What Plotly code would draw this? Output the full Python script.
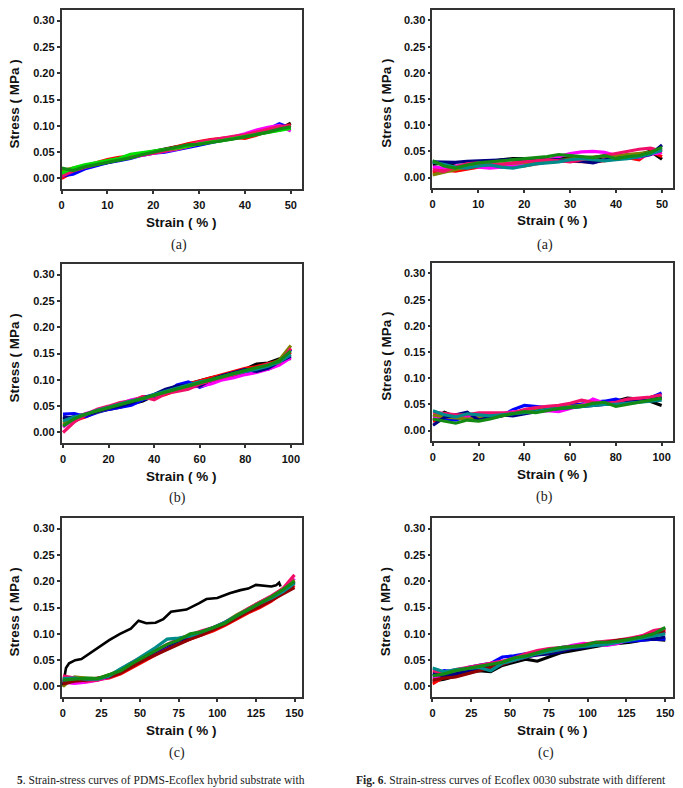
import plotly.graph_objects as go

W, H = 683, 788

# ---------------- data ----------------
# Panel (left a) PDMS-Ecoflex, 50 %
x_la = [0, 2.5, 5, 7.5, 10, 12.5, 15, 17.5, 20, 22.5, 25, 27.5, 30, 32.5, 35, 37.5, 40, 42.5, 45, 47.5, 50]
la_blue = [.005, .008, .018, .024, .030, .034, .038, .044, .048, .050, .054, .058, .063, .068, .072, .077, .082, .088, .093, .104, .096]
la_red = [.000, .012, .022, .030, .036, .040, .042, .046, .050, .055, .060, .066, .070, .074, .076, .078, .076, .082, .090, .098, .102]
la_magenta = [.008, .016, .022, .028, .032, .036, .040, .045, .049, .052, .055, .060, .066, .072, .075, .079, .085, .092, .097, .101, .090]
la_black = [.012, .018, .024, .027, .030, .035, .040, .047, .052, .056, .060, .063, .066, .069, .073, .076, .080, .084, .088, .093, .105]
la_olive = [.015, .020, .025, .030, .034, .037, .042, .047, .050, .053, .056, .061, .067, .070, .073, .077, .081, .084, .088, .092, .097]
la_pink = [.004, .014, .021, .027, .033, .038, .041, .044, .048, .052, .057, .063, .069, .073, .077, .080, .083, .088, .094, .099, .100]
la_lime = [.010, .020, .026, .030, .035, .038, .046, .049, .051, .054, .058, .062, .066, .069, .072, .076, .080, .084, .087, .091, .095]
la_green = [.020, .015, .022, .026, .030, .034, .039, .045, .050, .055, .060, .064, .065, .068, .072, .075, .079, .083, .088, .094, .098]

# Panel (right a) Ecoflex 0030, 50 %
x_ra = x_la
ra_black = [.025, .028, .022, .020, .024, .030, .034, .036, .036, .034, .032, .036, .038, .034, .036, .040, .042, .040, .044, .050, .035]
ra_red = [.010, .014, .012, .016, .020, .022, .024, .023, .022, .026, .030, .032, .031, .030, .030, .032, .036, .038, .034, .050, .040]
ra_magenta = [.020, .018, .022, .024, .020, .018, .020, .024, .026, .028, .032, .040, .046, .049, .050, .048, .042, .040, .038, .044, .048]
ra_olive = [.005, .010, .016, .020, .022, .025, .026, .027, .028, .030, .032, .034, .036, .038, .040, .041, .042, .044, .046, .048, .055]
ra_navy = [.030, .030, .029, .031, .032, .033, .034, .035, .036, .036, .035, .034, .033, .031, .028, .034, .036, .038, .040, .044, .062]
ra_pink = [.015, .012, .020, .026, .028, .026, .025, .028, .030, .032, .034, .032, .030, .034, .038, .042, .045, .050, .054, .056, .050]
ra_teal = [.030, .025, .020, .018, .022, .024, .020, .018, .022, .026, .028, .030, .034, .036, .034, .032, .034, .036, .040, .045, .052]
ra_green = [.032, .022, .018, .024, .028, .030, .032, .034, .036, .038, .040, .044, .042, .040, .038, .042, .036, .040, .042, .048, .058]

# Panel (left b) PDMS-Ecoflex, 100 %
x_lb = [0, 5, 10, 15, 20, 25, 30, 35, 40, 45, 50, 55, 60, 65, 70, 75, 80, 85, 90, 95, 100]
lb_black = [.025, .030, .036, .040, .044, .048, .054, .060, .070, .078, .086, .092, .098, .104, .108, .114, .120, .130, .132, .140, .140]
lb_red = [.015, .022, .030, .040, .045, .052, .058, .068, .066, .072, .080, .092, .098, .104, .110, .116, .122, .125, .130, .136, .152]
lb_blue = [.035, .036, .030, .038, .044, .048, .052, .062, .068, .075, .090, .096, .086, .094, .104, .108, .112, .118, .120, .130, .158]
lb_magenta = [.010, .026, .036, .042, .048, .055, .062, .066, .070, .076, .082, .086, .088, .092, .100, .104, .110, .114, .120, .128, .142]
lb_olive = [.018, .028, .034, .039, .046, .052, .058, .064, .070, .076, .082, .088, .094, .100, .106, .110, .116, .122, .126, .138, .165]
lb_navy = [.030, .025, .033, .040, .046, .050, .056, .066, .072, .082, .088, .090, .088, .100, .108, .114, .120, .116, .122, .134, .145]
lb_pink = [.000, .020, .034, .044, .050, .057, .060, .068, .062, .074, .078, .082, .092, .098, .104, .110, .116, .122, .130, .132, .160]
lb_teal = [.022, .030, .034, .042, .048, .054, .060, .064, .072, .078, .084, .090, .096, .100, .106, .112, .116, .120, .126, .134, .148]
lb_green = [.012, .026, .035, .041, .047, .053, .059, .065, .071, .077, .083, .089, .095, .101, .107, .112, .118, .123, .128, .136, .155]

# Panel (right b) Ecoflex 0030, 100 %
x_rb = x_lb
rb_black = [.020, .035, .026, .024, .026, .028, .030, .034, .038, .040, .044, .046, .048, .050, .052, .054, .056, .062, .060, .056, .048]
rb_red = [.018, .024, .028, .030, .032, .030, .028, .032, .036, .040, .042, .044, .046, .048, .050, .052, .054, .056, .058, .060, .062]
rb_blue = [.030, .022, .020, .028, .026, .024, .028, .040, .048, .046, .044, .046, .048, .050, .054, .056, .060, .054, .058, .062, .072]
rb_magenta = [.025, .028, .030, .026, .028, .030, .032, .036, .036, .036, .038, .036, .042, .048, .060, .052, .050, .056, .058, .060, .062]
rb_olive = [.030, .026, .024, .022, .024, .026, .030, .034, .036, .038, .042, .044, .046, .048, .050, .050, .052, .054, .056, .058, .060]
rb_navy = [.010, .025, .030, .035, .020, .025, .030, .028, .032, .035, .040, .042, .044, .046, .048, .050, .052, .054, .056, .058, .064]
rb_pink = [.035, .032, .030, .030, .034, .034, .034, .034, .040, .044, .046, .048, .052, .058, .054, .052, .054, .060, .062, .064, .068]
rb_teal = [.038, .030, .026, .032, .030, .028, .030, .032, .034, .036, .040, .042, .044, .046, .048, .050, .050, .052, .054, .056, .058]
rb_green = [.022, .018, .014, .020, .018, .022, .028, .032, .036, .034, .038, .042, .044, .046, .052, .054, .046, .050, .054, .058, .062]

# Panel (left c) PDMS-Ecoflex, 150 %
x_lc = [0, 7.5, 15, 22.5, 30, 37.5, 45, 52.5, 60, 67.5, 75, 82.5, 90, 97.5, 105, 112.5, 120, 127.5, 135, 142.5, 150]
lc_red = [.018, .012, .010, .013, .016, .024, .036, .048, .060, .072, .082, .090, .098, .106, .116, .128, .140, .150, .162, .178, .192]
lc_blue = [.010, .015, .012, .014, .018, .028, .040, .052, .064, .076, .085, .094, .102, .110, .120, .132, .146, .158, .170, .184, .200]
lc_magenta = [.008, .006, .008, .012, .018, .030, .044, .056, .066, .078, .088, .096, .104, .112, .120, .132, .144, .154, .166, .180, .205]
lc_olive = [.000, .018, .016, .015, .022, .032, .044, .056, .068, .078, .086, .094, .102, .110, .122, .136, .148, .160, .170, .186, .202]
lc_navy = [.012, .014, .013, .015, .020, .030, .042, .054, .066, .078, .087, .095, .103, .111, .121, .133, .145, .156, .168, .182, .198]
lc_pink = [.020, .016, .010, .012, .020, .032, .046, .058, .068, .080, .090, .098, .106, .112, .122, .134, .148, .160, .172, .186, .212]
lc_wine = [.005, .010, .012, .016, .018, .026, .038, .050, .060, .070, .080, .090, .098, .108, .118, .130, .142, .152, .164, .176, .188]
lc_teal = [.015, .016, .014, .014, .020, .034, .046, .060, .074, .090, .092, .096, .104, .112, .122, .134, .146, .158, .168, .180, .196]
lc_green = [.012, .014, .016, .015, .022, .030, .044, .056, .068, .080, .088, .100, .104, .112, .120, .134, .146, .158, .170, .184, .200]
# first-cycle (black) curve of left c
x_lc_black = [0, 1, 2, 4, 8, 12, 20, 30, 37, 44, 49, 54, 60, 65, 70, 80, 88, 93, 100, 108, 115, 120, 125, 130, 135, 138, 140, 141]
lc_black = [.000, .020, .035, .044, .050, .052, .068, .088, .100, .110, .125, .120, .121, .128, .142, .146, .158, .166, .168, .177, .183, .186, .193, .192, .190, .192, .197, .190]

# Panel (right c) Ecoflex 0030, 150 %
x_rc = x_lc
rc_black = [.010, .014, .020, .026, .030, .028, .040, .046, .052, .048, .056, .064, .068, .072, .076, .080, .082, .084, .088, .090, .088]
rc_red = [.005, .018, .024, .030, .034, .040, .046, .052, .058, .062, .066, .070, .074, .076, .080, .082, .084, .088, .094, .104, .108]
rc_blue = [.020, .030, .028, .036, .040, .044, .056, .058, .062, .064, .068, .074, .076, .080, .082, .080, .084, .086, .088, .090, .090]
rc_magenta = [.015, .022, .030, .034, .038, .044, .048, .050, .056, .060, .064, .072, .078, .082, .080, .078, .082, .090, .096, .100, .104]
rc_navy = [.025, .020, .024, .030, .034, .038, .042, .050, .056, .060, .062, .066, .072, .074, .078, .082, .086, .088, .092, .090, .094]
rc_pink = [.030, .026, .032, .036, .040, .044, .048, .054, .062, .068, .072, .074, .076, .080, .084, .086, .088, .092, .096, .106, .110]
rc_wine = [.012, .016, .018, .024, .030, .036, .042, .050, .056, .062, .066, .070, .074, .078, .080, .084, .088, .090, .094, .100, .104]
rc_teal = [.035, .028, .032, .034, .036, .030, .044, .050, .056, .062, .066, .070, .074, .076, .078, .080, .084, .088, .092, .096, .100]
rc_green = [.020, .024, .030, .034, .038, .042, .046, .054, .058, .064, .070, .074, .076, .078, .084, .084, .086, .090, .094, .100, .112]

y_ticks = [0.00, 0.05, 0.10, 0.15, 0.20, 0.25, 0.30]
y_ticklabels = ["0.00", "0.05", "0.10", "0.15", "0.20", "0.25", "0.30"]
x_ticks_50 = [0, 10, 20, 30, 40, 50]
x_ticks_100 = [0, 20, 40, 60, 80, 100]
x_ticks_150 = [0, 25, 50, 75, 100, 125, 150]

COL = {
    "black": "#000000", "red": "#FF0000", "blue": "#0000FF", "magenta": "#FF00FF",
    "olive": "#808000", "navy": "#000080", "pink": "#F0106A", "wine": "#900000",
    "teal": "#008B8B", "lime": "#00E000", "green": "#138A13",
}

panels = [
    dict(x=x_la, series=[("black", la_black), ("red", la_red), ("blue", la_blue), ("magenta", la_magenta),
                         ("olive", la_olive), ("pink", la_pink), ("lime", la_lime), ("green", la_green)],
         xr=[0, 52.5], xt=x_ticks_50, frame=(59, 301, 10, 189), label="(a)", lab=(177, 245)),
    dict(x=x_ra, series=[("black", ra_black), ("red", ra_red), ("magenta", ra_magenta), ("olive", ra_olive),
                         ("navy", ra_navy), ("pink", ra_pink), ("teal", ra_teal), ("green", ra_green)],
         xr=[0, 52.4], xt=x_ticks_50, frame=(432, 674, 10, 188), label="(a)", lab=(545, 245)),
    dict(x=x_lb, series=[("black", lb_black), ("red", lb_red), ("blue", lb_blue), ("magenta", lb_magenta),
                         ("olive", lb_olive), ("navy", lb_navy), ("pink", lb_pink), ("teal", lb_teal),
                         ("green", lb_green)],
         xr=[-0.6, 105], xt=x_ticks_100, frame=(59, 301, 264, 443), label="(b)", lab=(176, 498)),
    dict(x=x_rb, series=[("black", rb_black), ("red", rb_red), ("blue", rb_blue), ("magenta", rb_magenta),
                         ("olive", rb_olive), ("navy", rb_navy), ("pink", rb_pink), ("teal", rb_teal),
                         ("green", rb_green)],
         xr=[-0.2, 105], xt=x_ticks_100, frame=(432, 674, 263, 441), label="(b)", lab=(545, 497)),
    dict(x=x_lc, series=[("red", lc_red), ("blue", lc_blue), ("magenta", lc_magenta), ("olive", lc_olive),
                         ("navy", lc_navy), ("pink", lc_pink), ("wine", lc_wine), ("teal", lc_teal),
                         ("green", lc_green)],
         xr=[-0.8, 155], xt=x_ticks_150, frame=(59, 301, 518, 697), label="(c)", lab=(175, 753),
         extra=(x_lc_black, lc_black)),
    dict(x=x_rc, series=[("black", rc_black), ("red", rc_red), ("blue", rc_blue), ("magenta", rc_magenta),
                         ("navy", rc_navy), ("pink", rc_pink), ("wine", rc_wine), ("teal", rc_teal),
                         ("green", rc_green)],
         xr=[0, 155], xt=x_ticks_150, frame=(432, 674, 518, 697), label="(c)", lab=(546, 753)),
]

fig = go.Figure()
layout = dict(
    width=W, height=H, margin=dict(l=0, r=0, t=0, b=0),
    paper_bgcolor="white", plot_bgcolor="white", showlegend=False,
)
annotations = []

def px_x(p):
    return p / W

def px_y(p):
    return 1 - p / H

TICKFONT = dict(family="Liberation Sans, Arial, sans-serif", size=11, color="#111", weight="bold")
TITLEFONT = dict(family="Liberation Sans, Arial, sans-serif", size=13.5, color="#111", weight="bold")
CAPFONT = dict(family="Liberation Serif, Times New Roman, serif", size=14, color="#222")

for i, p in enumerate(panels, start=1):
    xa = "x" if i == 1 else f"x{i}"
    ya = "y" if i == 1 else f"y{i}"
    l, r, t, b = p["frame"]
    if "extra" in p:
        xs, ys = p["extra"]
        fig.add_trace(go.Scatter(x=xs, y=ys, mode="lines", xaxis=xa, yaxis=ya,
                                 line=dict(color="#000000", width=2.6), hoverinfo="skip"))
    for cname, ys in p["series"]:
        fig.add_trace(go.Scatter(x=p["x"], y=ys, mode="lines", xaxis=xa, yaxis=ya,
                                 line=dict(color=COL[cname], width=3.2), hoverinfo="skip"))
    axcommon = dict(showline=True, mirror=True, linecolor="#333", linewidth=1.8,
                    ticks="outside", ticklen=3, tickwidth=1.5, tickcolor="#333",
                    showgrid=False, zeroline=False, tickfont=TICKFONT)
    layout["xaxis" if i == 1 else f"xaxis{i}"] = dict(
        domain=[px_x(l), px_x(r)], range=p["xr"], anchor=ya, tickvals=p["xt"],
        ticklabelstandoff=2, **axcommon)
    layout["yaxis" if i == 1 else f"yaxis{i}"] = dict(
        domain=[px_y(b), px_y(t)], range=[-0.02, 0.32], anchor=xa,
        tickvals=y_ticks, ticktext=y_ticklabels, **axcommon)
    cx = (l + r) / 2
    annotations.append(dict(text="Strain ( % )", x=px_x(cx), y=px_y(b + 33), xref="paper", yref="paper",
                            showarrow=False, font=TITLEFONT, xanchor="center", yanchor="middle"))
    stress_x = 12 if l < 200 else 385
    annotations.append(dict(text="Stress ( MPa )", x=px_x(stress_x), y=px_y((t + b) / 2 + 4), xref="paper",
                            yref="paper", showarrow=False, font=TITLEFONT, textangle=-90,
                            xanchor="center", yanchor="middle"))
    annotations.append(dict(text=p["label"], x=px_x(p["lab"][0]), y=px_y(p["lab"][1]), xref="paper",
                            yref="paper", showarrow=False, font=CAPFONT, xanchor="center", yanchor="middle"))

CAPTION_FONT = dict(family="Liberation Serif, Times New Roman, serif", size=11.5, color="#222")
annotations.append(dict(text="<b>5</b>. Strain-stress curves of PDMS-Ecoflex hybrid substrate with",
                        x=px_x(12), y=px_y(772), xref="paper", yref="paper", showarrow=False,
                        font=CAPTION_FONT, xanchor="left", yanchor="top"))
annotations.append(dict(text="<b>Fig. 6</b>. Strain-stress curves of Ecoflex 0030 substrate with different",
                        x=px_x(353), y=px_y(772), xref="paper", yref="paper", showarrow=False,
                        font=CAPTION_FONT, xanchor="left", yanchor="top"))

layout["annotations"] = annotations
fig.update_layout(**layout)
fig.write_html("out.html")
